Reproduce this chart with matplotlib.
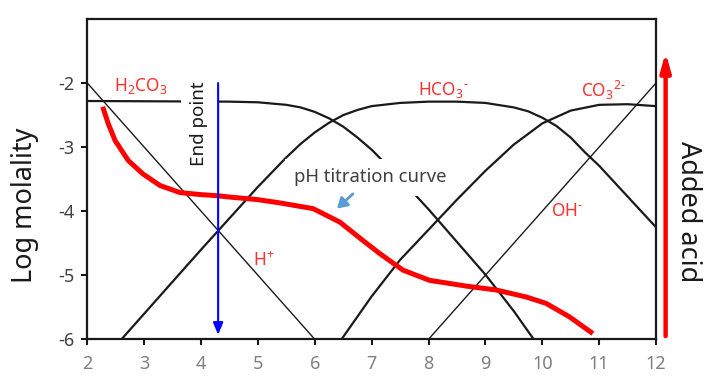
import matplotlib
matplotlib.use("Agg")
import matplotlib.pyplot as plt

plt.rcParams['font.family'] = ['Noto Sans', 'DejaVu Sans']
plt.rcParams['mathtext.fontset'] = 'custom'
plt.rcParams['mathtext.rm'] = 'Noto Sans'
plt.rcParams['mathtext.it'] = 'Noto Sans:italic'
plt.rcParams['axes.unicode_minus'] = False

# carbonate species (pH, log molality)
ph_h2co3 = [2.0, 4.5, 5.0, 5.5, 5.75, 6.0, 6.25, 6.5, 6.75, 7.0, 7.5, 8.0, 9.0, 9.5, 9.85]
log_h2co3 = [-2.28, -2.29, -2.30, -2.34, -2.38, -2.45, -2.55, -2.68, -2.85, -3.04, -3.49, -3.97, -4.99, -5.56, -6.0]

ph_hco3 = [2.6, 3.0, 4.0, 5.0, 5.5, 5.75, 6.0, 6.25, 6.5, 6.75, 7.0, 7.5, 8.0, 8.5, 9.0, 9.5,
           9.75, 10.0, 10.25, 10.5, 10.75, 11.0, 11.5, 12.0]
log_hco3 = [-6.0, -5.60, -4.60, -3.62, -3.16, -2.95, -2.77, -2.62, -2.50, -2.42, -2.36, -2.31, -2.29, -2.29,
            -2.31, -2.38, -2.44, -2.54, -2.67, -2.85, -3.08, -3.29, -3.77, -4.25]

ph_co3 = [6.47, 7.0, 7.5, 8.0, 8.5, 9.0, 9.5, 10.0, 10.5, 11.0, 11.5, 12.0]
log_co3 = [-6.0, -5.33, -4.76, -4.29, -3.82, -3.37, -2.96, -2.63, -2.43, -2.34, -2.33, -2.36]

ph_h = [2, 6]
log_h = [-2, -6]
ph_oh = [8, 12]
log_oh = [-6, -2]

# titration curve
ph_titr = [2.27, 2.37, 2.49, 2.72, 2.98, 3.28, 3.63, 3.98, 4.30, 4.51, 5.0, 5.38, 5.97, 6.44, 6.85,
           7.14, 7.55, 8.02, 8.67, 9.19, 9.72, 10.07, 10.48, 10.89]
log_titr = [-2.37, -2.64, -2.90, -3.21, -3.42, -3.60, -3.71, -3.74, -3.76, -3.78, -3.82, -3.87, -3.96,
            -4.17, -4.46, -4.66, -4.92, -5.08, -5.17, -5.23, -5.34, -5.44, -5.65, -5.91]

x_ticks = [2, 3, 4, 5, 6, 7, 8, 9, 10, 11, 12]
y_ticks = [-6, -5, -4, -3, -2]

fig = plt.figure(figsize=(7.13, 3.84), dpi=100)
ax = fig.add_axes([0.1225, 0.1164, 0.7975, 0.8341])

black = '#1a1a1a'
ax.plot(ph_h2co3, log_h2co3, color=black, lw=1.6, zorder=2)
ax.plot(ph_hco3, log_hco3, color=black, lw=1.6, zorder=2)
ax.plot(ph_co3, log_co3, color=black, lw=1.6, zorder=2)
ax.plot(ph_h, log_h, color=black, lw=1.0, zorder=2)
ax.plot(ph_oh, log_oh, color=black, lw=1.0, zorder=2)
ax.plot(ph_titr, log_titr, color='#ff0000', lw=3.6, zorder=3, solid_capstyle='butt',
        solid_joinstyle='round')

ax.set_xlim(2, 12)
ax.set_ylim(-6, -1)
ax.set_xticks(x_ticks)
ax.set_yticks(y_ticks)
ax.tick_params(axis='both', direction='out', length=4, width=1.5, labelsize=13)
ax.tick_params(axis='x', colors=black, labelcolor='#7f7f7f', pad=7)
ax.tick_params(axis='y', colors=black, labelcolor='#404040', pad=5)
for s in ax.spines.values():
    s.set_linewidth(1.6)
    s.set_color(black)

lab_red = '#ff3030'
ax.text(2.47, -2.12, r'H$_2$CO$_3$', color=lab_red, fontsize=12.5)
ax.text(7.81, -2.19, r'HCO$_3$$^{\text{-}}$', color=lab_red, fontsize=12.5)
ax.text(10.69, -2.22, r'CO$_3$$^{\text{2-}}$', color=lab_red, fontsize=12.5)
ax.text(10.15, -4.07, r'OH$^{\text{-}}$', color=lab_red, fontsize=12.5)
ax.text(4.91, -4.85, r'H$^{\mathrm{+}}$', color=lab_red, fontsize=12.5)

box = dict(boxstyle='square,pad=0.5', fc='white', ec='none')
ax.text(3.97, -2.64, 'End point', rotation=90, ha='center', va='center', fontsize=13.5,
        color=black, bbox=box, zorder=4)
ax.text(6.98, -3.55, 'pH titration curve', ha='center', va='baseline', fontsize=13.3,
        color='#404040', bbox=box, zorder=4)

# end point arrow
ax.annotate('', xy=(4.3, -5.93), xytext=(4.3, -2.0), zorder=5,
            arrowprops=dict(arrowstyle='-|>,head_width=0.25,head_length=0.6', color='#0000ff',
                            lw=1.5, shrinkA=0, shrinkB=0, mutation_scale=12))
# pointer to the titration curve
ax.annotate('', xy=(6.39, -3.96), xytext=(6.67, -3.73), zorder=5,
            arrowprops=dict(arrowstyle='-|>,head_width=0.3,head_length=0.5', color='#5b9bd5',
                            lw=2, shrinkA=0, shrinkB=0, mutation_scale=12))
# added acid arrow
ax.annotate('', xy=(12.17, -1.52), xytext=(12.17, -5.95), annotation_clip=False, zorder=5,
            arrowprops=dict(arrowstyle='-|>,head_width=0.25,head_length=0.9', color='#ff0000',
                            lw=3.2, shrinkA=0, shrinkB=0, mutation_scale=12))

fig.text(25 / 713, 1 - 205 / 384, 'Log molality', rotation=90, ha='center', va='center',
         fontsize=19.5, color=black)
fig.text(688 / 713, 1 - 212 / 384, 'Added acid', rotation=-90, ha='center', va='center',
         fontsize=19.5, color=black)

fig.savefig('out.png', dpi=100)
